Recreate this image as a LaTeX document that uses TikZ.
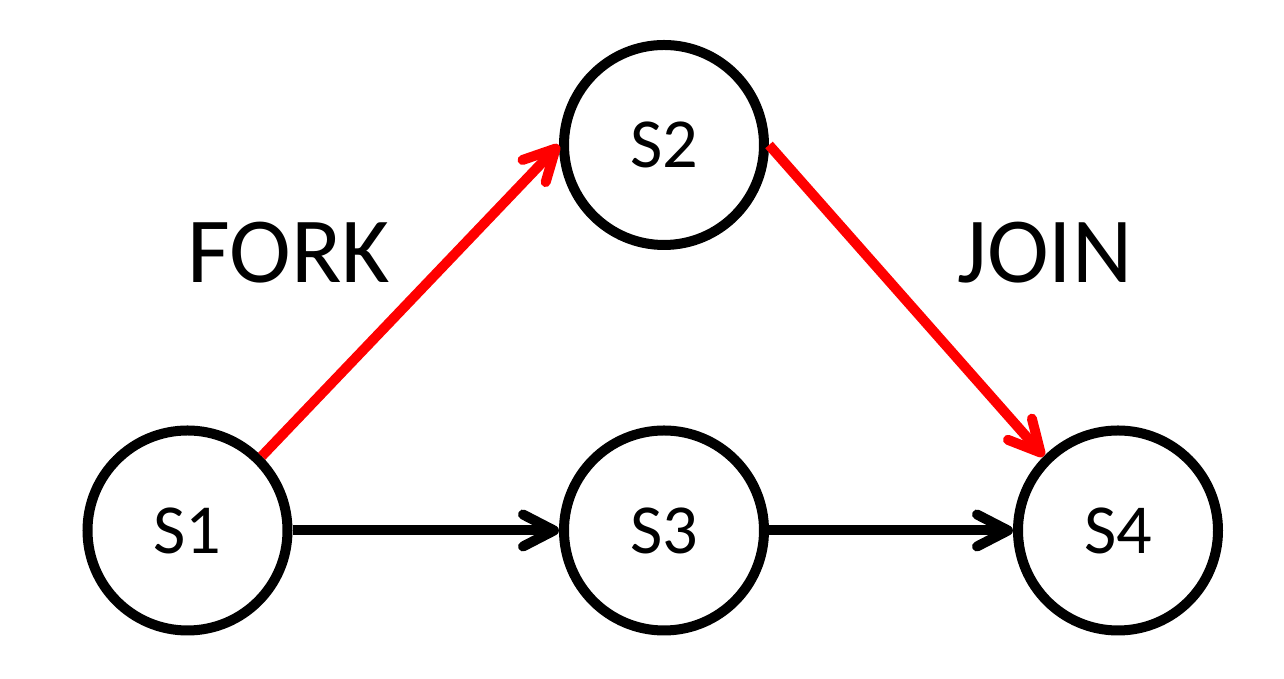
\documentclass[tikz,border=0pt]{standalone}
\usepackage{fontspec}
\setmainfont{Carlito}
\usetikzlibrary{arrows.meta, positioning}
\definecolor{cred}{HTML}{FF0000}
\tikzset{
  every picture/.style={line width=0.1cm},
  state/.style={draw=black, circle, minimum size=2.0cm, inner sep=0pt, font=\fontsize{20}{24}\selectfont},
  arrow/.style={-{Straight Barb[length=3.1mm, width=3.2mm, round]}, draw=black},
  redarrow/.style={arrow, draw=cred},
  label/.style={font=\fontsize{26.5}{32}\selectfont, anchor=base},
}

\begin{document}
\begin{tikzpicture}
  \useasboundingbox (0,0) rectangle (12.84,6.79);
  \node[state] (s1) at (1.875,1.485) {S1};
  \node[state, on grid, right=4.765cm of s1] (s3) {S3};
  \node[state, on grid, right=4.54cm of s3] (s4) {S4};
  \node[state, on grid, above=3.855cm of s3] (s2) {S2};
  \node[label] (fork) at (2.89,3.96) {FORK};
  \node[label] (join) at (10.45,3.96) {JOIN};
  \draw[arrow] (s1) -- (s3);
  \draw[arrow] (s3) -- (s4);
  \draw[redarrow] (s1.45) -- (s2.west);
  \draw[redarrow] (s2.east) -- (s4.135);
\end{tikzpicture}
\end{document}
